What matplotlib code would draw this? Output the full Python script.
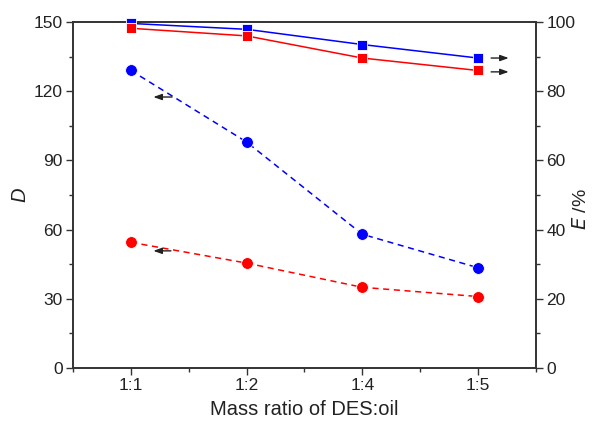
import matplotlib
matplotlib.use("Agg")
import matplotlib.pyplot as plt
from matplotlib.ticker import MultipleLocator

plt.rcParams['font.family'] = ['Liberation Sans', 'DejaVu Sans']

ratios = ["1:1", "1:2", "1:4", "1:5"]
D_blue = [129.0, 98.0, 58.0, 43.5]
D_red = [54.5, 45.5, 35.0, 31.0]
E_blue = [99.6, 97.9, 93.5, 89.6]
E_red = [98.2, 96.0, 89.6, 86.0]

x = list(range(1, len(ratios) + 1))

fig = plt.figure(figsize=(5.94, 4.24), dpi=100)
ax = fig.add_axes([0.123, 0.132, 0.779, 0.816])
ax2 = ax.twinx()

# D (left axis): dashed lines with circles
ax.plot(x, D_blue, color='#0000ff', ls=(0, (4, 3)), lw=1.1, marker='o', ms=8.5,
        mec='white', mew=0.6, clip_on=False, zorder=3)
ax.plot(x, D_red, color='#ff0000', ls=(0, (4, 3)), lw=1.1, marker='o', ms=8.5,
        mec='white', mew=0.6, clip_on=False, zorder=3)

# E (right axis): solid lines with squares
ax2.plot(x, E_blue, color='#0000ff', ls='-', lw=1.1, marker='s', ms=7.5,
         mec='white', mew=0.6, clip_on=False, zorder=3)
ax2.plot(x, E_red, color='#ff0000', ls='-', lw=1.1, marker='s', ms=7.5,
         mec='white', mew=0.6, clip_on=False, zorder=3)

ax.set_xlim(0.5, 4.5)
ax.set_ylim(0, 150)
ax2.set_ylim(0, 100)

ax.set_xticks(x)
ax.set_xticklabels(ratios)
ax.xaxis.set_minor_locator(MultipleLocator(0.5))
ax.yaxis.set_major_locator(MultipleLocator(30))
ax.yaxis.set_minor_locator(MultipleLocator(15))
ax2.yaxis.set_major_locator(MultipleLocator(20))
ax2.yaxis.set_minor_locator(MultipleLocator(10))

for a in (ax, ax2):
    a.tick_params(which='major', direction='out', length=5, width=1, labelsize=12.5,
                  colors='#333333', labelcolor='#222222', pad=2.5)
    a.tick_params(which='minor', direction='out', length=3, width=1, colors='#333333')
    for s in a.spines.values():
        s.set_color('#333333')
        s.set_linewidth(1.2)

ax.set_xlabel("Mass ratio of DES:oil", fontsize=14.5, color='#222222', labelpad=5)
ax.set_ylabel("D", fontsize=14.5, style='italic', color='#222222', ha='center',
              va='center', rotation=90)
ax.yaxis.set_label_coords(-0.115, 0.5)
ax2.set_ylabel("$\\it{E}$ /%", fontsize=14, color='#222222', rotation=90,
               ha='center', va='center')
ax2.yaxis.set_label_coords(1.097, 0.46)

# Arrows indicating which axis each series belongs to
arrow_kw = dict(arrowstyle='-|>,head_length=0.5,head_width=0.18', color='#222222', lw=1.0)
ax.annotate('', xy=(1.17, 117.5), xytext=(1.38, 117.5), arrowprops=arrow_kw)
ax.annotate('', xy=(1.17, 50.8), xytext=(1.37, 50.8), arrowprops=arrow_kw)
ax2.annotate('', xy=(4.29, 89.6), xytext=(4.09, 89.6), arrowprops=arrow_kw)
ax2.annotate('', xy=(4.29, 85.6), xytext=(4.09, 85.6), arrowprops=arrow_kw)

fig.savefig("out.png", dpi=100)
